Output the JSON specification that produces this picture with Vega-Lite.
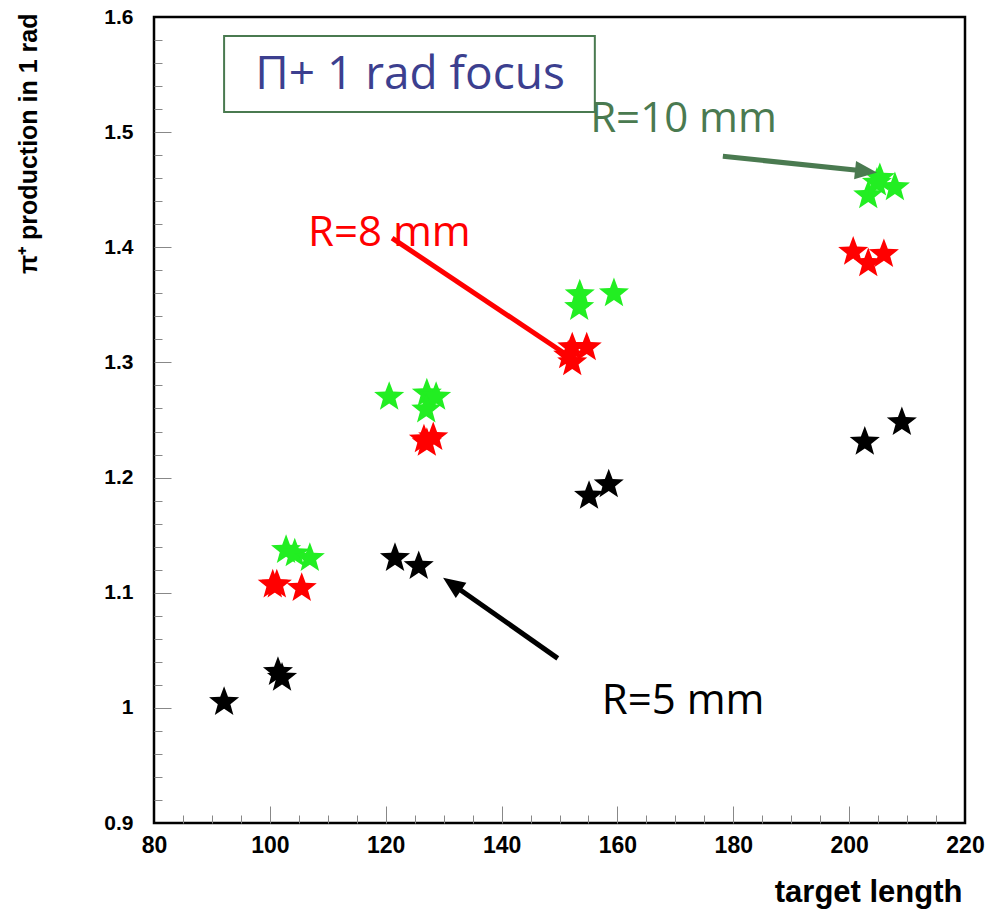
{
  "$schema": "https://vega.github.io/schema/vega-lite/v6.json",
  "width": 811,
  "height": 806,
  "autosize": {"type": "none"},
  "padding": {"left": 154, "top": 17, "right": 20, "bottom": 90},
  "background": "white",
  "config": {"view": {"stroke": "#000", "strokeWidth": 2.5}, "axis": {"grid": false, "domain": false}},
  "datasets": {
    "stars": [
      {"length": 92.1, "pion": 1.005, "series": "R=5 mm"},
      {"length": 101.4, "pion": 1.031, "series": "R=5 mm"},
      {"length": 102.1, "pion": 1.026, "series": "R=5 mm"},
      {"length": 121.6, "pion": 1.130, "series": "R=5 mm"},
      {"length": 125.7, "pion": 1.123, "series": "R=5 mm"},
      {"length": 155.1, "pion": 1.184, "series": "R=5 mm"},
      {"length": 158.5, "pion": 1.194, "series": "R=5 mm"},
      {"length": 202.7, "pion": 1.231, "series": "R=5 mm"},
      {"length": 209.1, "pion": 1.248, "series": "R=5 mm"},
      {"length": 100.5, "pion": 1.107, "series": "R=8 mm"},
      {"length": 101.2, "pion": 1.107, "series": "R=8 mm"},
      {"length": 105.5, "pion": 1.104, "series": "R=8 mm"},
      {"length": 126.6, "pion": 1.233, "series": "R=8 mm"},
      {"length": 127.1, "pion": 1.230, "series": "R=8 mm"},
      {"length": 128.2, "pion": 1.235, "series": "R=8 mm"},
      {"length": 151.5, "pion": 1.306, "series": "R=8 mm"},
      {"length": 152.2, "pion": 1.313, "series": "R=8 mm"},
      {"length": 152.2, "pion": 1.300, "series": "R=8 mm"},
      {"length": 154.7, "pion": 1.313, "series": "R=8 mm"},
      {"length": 200.7, "pion": 1.396, "series": "R=8 mm"},
      {"length": 203.3, "pion": 1.386, "series": "R=8 mm"},
      {"length": 206.0, "pion": 1.394, "series": "R=8 mm"},
      {"length": 102.8, "pion": 1.137, "series": "R=10 mm"},
      {"length": 104.3, "pion": 1.134, "series": "R=10 mm"},
      {"length": 106.9, "pion": 1.130, "series": "R=10 mm"},
      {"length": 120.6, "pion": 1.270, "series": "R=10 mm"},
      {"length": 127.1, "pion": 1.273, "series": "R=10 mm"},
      {"length": 128.7, "pion": 1.270, "series": "R=10 mm"},
      {"length": 127.0, "pion": 1.259, "series": "R=10 mm"},
      {"length": 153.5, "pion": 1.359, "series": "R=10 mm"},
      {"length": 153.4, "pion": 1.348, "series": "R=10 mm"},
      {"length": 159.4, "pion": 1.360, "series": "R=10 mm"},
      {"length": 205.3, "pion": 1.460, "series": "R=10 mm"},
      {"length": 203.3, "pion": 1.445, "series": "R=10 mm"},
      {"length": 207.9, "pion": 1.452, "series": "R=10 mm"},
      {"length": 204.8, "pion": 1.456, "series": "R=10 mm"}
    ],
    "anchor": [{"length": 80, "pion": 0.9}]
  },
  "resolve": {"axis": {"x": "independent", "y": "independent"}},
  "layer": [
    {
      "data": {"name": "anchor"},
      "mark": {"type": "point", "opacity": 0},
      "encoding": {
        "x": {"field": "length", "type": "quantitative", "scale": {"domain": [80, 220], "nice": false, "zero": false},
          "axis": {"orient": "bottom", "values": [85, 90, 95, 105, 110, 115, 125, 130, 135, 145, 150, 155, 165, 170, 175, 185, 190, 195, 205, 210, 215], "labels": false, "ticks": true, "tickSize": -8, "tickColor": "#888", "tickWidth": 1, "title": null}},
        "y": {"field": "pion", "type": "quantitative", "scale": {"domain": [0.9, 1.6], "nice": false, "zero": false},
          "axis": {"orient": "left", "values": [0.92, 0.94, 0.96, 0.98, 1.02, 1.04, 1.06, 1.08, 1.12, 1.14, 1.16, 1.18, 1.22, 1.24, 1.26, 1.28, 1.32, 1.34, 1.36, 1.38, 1.42, 1.44, 1.46, 1.48, 1.52, 1.54, 1.56, 1.58], "labels": false, "ticks": true, "tickSize": -8, "tickColor": "#888", "tickWidth": 1, "title": null}}
      }
    },
    {
      "data": {"name": "anchor"},
      "mark": {"type": "point", "opacity": 0},
      "encoding": {
        "x": {"field": "length", "type": "quantitative", "scale": {"domain": [80, 220], "nice": false, "zero": false},
          "axis": {"orient": "bottom", "values": [100, 120, 140, 160, 180, 200], "labels": false, "ticks": true, "tickSize": -17, "tickColor": "#888", "tickWidth": 1, "title": null}},
        "y": {"field": "pion", "type": "quantitative", "scale": {"domain": [0.9, 1.6], "nice": false, "zero": false},
          "axis": {"orient": "left", "values": [1.0, 1.1, 1.2, 1.3, 1.4, 1.5], "labels": false, "ticks": true, "tickSize": -17, "tickColor": "#888", "tickWidth": 1, "title": null}}
      }
    },
    {
      "data": {"name": "stars"},
      "mark": {"type": "point", "filled": true, "opacity": 1, "size": 1000,
        "shape": "M0,-1L0.247,-0.34L0.951,-0.309L0.399,0.13L0.588,0.809L0,0.42L-0.588,0.809L-0.399,0.13L-0.951,-0.309L-0.247,-0.34Z"},
      "encoding": {
        "x": {"field": "length", "type": "quantitative", "scale": {"domain": [80, 220], "nice": false, "zero": false},
          "axis": {"orient": "bottom", "values": [80, 100, 120, 140, 160, 180, 200, 220], "ticks": false, "labelFont": "Liberation Sans Narrow, Liberation Sans", "labelFontWeight": "bold", "labelFontSize": 23, "labelColor": "#000", "labelPadding": 11, "labelFlush": false, "labelOverlap": false,
            "title": "target length", "titleFont": "Liberation Sans Narrow, Liberation Sans", "titleFontWeight": "bold", "titleFontSize": 31, "titleColor": "#000", "titleAnchor": "end", "titleAlign": "right", "titleBaseline": "alphabetic", "titleX": 808, "titleY": 78}},
        "y": {"field": "pion", "type": "quantitative", "scale": {"domain": [0.9, 1.6], "nice": false, "zero": false},
          "axis": {"orient": "left", "values": [0.9, 1.0, 1.1, 1.2, 1.3, 1.4, 1.5, 1.6], "format": "~g", "ticks": false, "labelFont": "Liberation Sans", "labelFontWeight": "bold", "labelFontSize": 21, "labelColor": "#000", "labelPadding": 21, "labelFlush": false, "labelOverlap": false,
            "title": "π⁺ production in 1 rad", "titleFont": "Liberation Sans Narrow, Liberation Sans", "titleFontWeight": "bold", "titleFontSize": 25, "titleColor": "#000", "titleAngle": -90, "titleAlign": "right", "titleBaseline": "middle", "titleX": -126, "titleY": -4}},
        "color": {"field": "series", "type": "nominal", "scale": {"domain": ["R=5 mm", "R=8 mm", "R=10 mm"], "range": ["#000000", "#ff0000", "#22ee22"]}, "legend": null}
      }
    },
    {
      "data": {"values": [{"x1": 92.1, "x2": 156.1, "y1": 1.5835, "y2": 1.5175}]},
      "mark": {"type": "rect", "fill": "#ffffff", "stroke": "#4a7a50", "strokeWidth": 2},
      "encoding": {
        "x": {"field": "x1", "type": "quantitative", "scale": {"domain": [80, 220], "nice": false, "zero": false}, "axis": null},
        "x2": {"field": "x2"},
        "y": {"field": "y1", "type": "quantitative", "scale": {"domain": [0.9, 1.6], "nice": false, "zero": false}, "axis": null},
        "y2": {"field": "y2"}
      }
    },
    {
      "data": {"values": [{"x": 124.2, "y": 1.5496, "label": "Π+ 1 rad focus"}]},
      "mark": {"type": "text", "align": "center", "baseline": "middle", "font": "Open Sans", "fontSize": 46, "color": "#3c3f8f"},
      "encoding": {
        "x": {"field": "x", "type": "quantitative", "axis": null},
        "y": {"field": "y", "type": "quantitative", "axis": null},
        "text": {"field": "label"}
      }
    },
    {
      "data": {"values": [{"x": 121.1, "y": 1.408, "x2": 151.8, "y2": 1.3047}]},
      "mark": {"type": "rule", "color": "#ff0000", "strokeWidth": 5},
      "encoding": {
        "x": {"field": "x", "type": "quantitative", "axis": null},
        "y": {"field": "y", "type": "quantitative", "axis": null},
        "x2": {"field": "x2"},
        "y2": {"field": "y2"}
      }
    },
    {
      "data": {"values": [{"x": 178.2, "y": 1.479, "x2": 203.1, "y2": 1.466}]},
      "mark": {"type": "rule", "color": "#4a7a50", "strokeWidth": 5},
      "encoding": {
        "x": {"field": "x", "type": "quantitative", "axis": null},
        "y": {"field": "y", "type": "quantitative", "axis": null},
        "x2": {"field": "x2"},
        "y2": {"field": "y2"}
      }
    },
    {
      "data": {"values": [{"x": 204.8, "y": 1.465}]},
      "mark": {"type": "point", "filled": true, "opacity": 1, "color": "#4a7a50", "size": 1936, "angle": 96, "shape": "M0,0L-0.42,1L0.42,1Z"},
      "encoding": {
        "x": {"field": "x", "type": "quantitative", "axis": null},
        "y": {"field": "y", "type": "quantitative", "axis": null}
      }
    },
    {
      "data": {"values": [{"x": 149.7, "y": 1.043, "x2": 131.3, "y2": 1.108}]},
      "mark": {"type": "rule", "color": "#000000", "strokeWidth": 5},
      "encoding": {
        "x": {"field": "x", "type": "quantitative", "axis": null},
        "y": {"field": "y", "type": "quantitative", "axis": null},
        "x2": {"field": "x2"},
        "y2": {"field": "y2"}
      }
    },
    {
      "data": {"values": [{"x": 129.9, "y": 1.113}]},
      "mark": {"type": "point", "filled": true, "opacity": 1, "color": "#000000", "size": 1936, "angle": 305, "shape": "M0,0L-0.42,1L0.42,1Z"},
      "encoding": {
        "x": {"field": "x", "type": "quantitative", "axis": null},
        "y": {"field": "y", "type": "quantitative", "axis": null}
      }
    },
    {
      "data": {"values": [{"x": 106.6, "y": 1.412, "label": "R=8 mm"}]},
      "mark": {"type": "text", "align": "left", "baseline": "middle", "font": "Open Sans", "fontSize": 42, "color": "#ff0000"},
      "encoding": {
        "x": {"field": "x", "type": "quantitative", "axis": null},
        "y": {"field": "y", "type": "quantitative", "axis": null},
        "text": {"field": "label"}
      }
    },
    {
      "data": {"values": [{"x": 155.3, "y": 1.511, "label": "R=10 mm"}]},
      "mark": {"type": "text", "align": "left", "baseline": "middle", "font": "Open Sans", "fontSize": 42, "color": "#4a7a50"},
      "encoding": {
        "x": {"field": "x", "type": "quantitative", "axis": null},
        "y": {"field": "y", "type": "quantitative", "axis": null},
        "text": {"field": "label"}
      }
    },
    {
      "data": {"values": [{"x": 157.3, "y": 1.006, "label": "R=5 mm"}]},
      "mark": {"type": "text", "align": "left", "baseline": "middle", "font": "Open Sans", "fontSize": 42, "color": "#000000"},
      "encoding": {
        "x": {"field": "x", "type": "quantitative", "axis": null},
        "y": {"field": "y", "type": "quantitative", "axis": null},
        "text": {"field": "label"}
      }
    }
  ]
}
